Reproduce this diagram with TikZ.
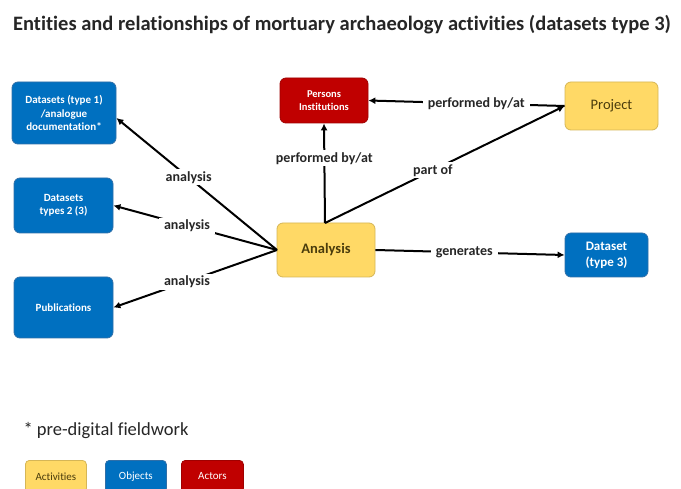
\documentclass[tikz,border=0pt]{standalone}
\usepackage{fontspec}
\setmainfont[Ligatures=NoCommon]{Carlito}
\usetikzlibrary{arrows.meta}
\definecolor{actyellow}{HTML}{FFD966}
\definecolor{actborder}{HTML}{D6B656}
\definecolor{acttext}{HTML}{4A3C0C}
\definecolor{objblue}{HTML}{0070C0}
\definecolor{objborder}{HTML}{2F6FA8}
\definecolor{actred}{HTML}{C00000}
\definecolor{redborder}{HTML}{A00000}
\tikzset{
  box/.style={rounded corners=6pt, line width=0.8pt, align=center, inner sep=2pt},
  activity/.style={box, fill=actyellow, draw=actborder, text=acttext},
  object/.style={box, fill=objblue, draw=objborder, text=white},
  actor/.style={box, fill=actred, draw=redborder, text=white},
  rel/.style={line width=2pt, -{Latex[length=7pt,width=7pt]}},
  lbl/.style={fill=white, inner xsep=5pt, inner ysep=2pt, font=\fontsize{14}{16}\selectfont\bfseries, text=black!85},
}
\begin{document}
\begin{tikzpicture}[x=1pt,y=-1pt]
\useasboundingbox (0,0) rectangle (681,489);
\fill[white] (0,0) rectangle (681,489);

% title
\node[font=\fontsize{20.5}{22}\selectfont\bfseries, text=black!85] (title) at (342,25)
  {Entities and relationships of mortuary archaeology activities (datasets type 3)};

% entities
\node[object, minimum width=104pt, minimum height=62pt, font=\fontsize{11}{13.5}\selectfont\bfseries] (ds1) at (64,113)
  {Datasets (type 1)\\/analogue\\documentation*};
\node[object, minimum width=99pt, minimum height=55pt, font=\fontsize{11}{13.5}\selectfont\bfseries] (ds2) at (63.5,205.5)
  {Datasets\\types 2 (3)};
\node[object, minimum width=99pt, minimum height=61pt, font=\fontsize{11}{13.5}\selectfont\bfseries] (pub) at (63.5,307.5)
  {Publications};
\node[actor, minimum width=88pt, minimum height=45pt, font=\fontsize{10.5}{12.5}\selectfont\bfseries] (pers) at (324,100.5)
  {Persons\\Institutions};
\node[activity, minimum width=93pt, minimum height=48pt, font=\fontsize{14.5}{16}\selectfont] (proj) at (611.5,106)
  {Project};
\node[activity, minimum width=98pt, minimum height=54pt, font=\fontsize{14.5}{16}\selectfont\bfseries] (ana) at (326,250)
  {Analysis};
\node[object, minimum width=83pt, minimum height=44pt, font=\fontsize{13}{16}\selectfont\bfseries] (ds3) at (606.5,255)
  {Dataset\\(type 3)};

% relationships
\coordinate (anaW) at (277,250);
\coordinate (anaN) at (325,223);
\draw[rel] (anaW) -- node[lbl, pos=0.55] {analysis} (ds1.south east |- 0,118) ;
\draw[rel] (anaW) -- node[lbl, pos=0.55] {analysis} (ds2.east);
\draw[rel] (anaW) -- node[lbl, pos=0.55] {analysis} (pub.east);
\draw[rel] (anaN) -- node[lbl, pos=0.65] {performed by/at} (pers.south);
\draw[rel] (anaN) -- node[lbl, pos=0.45] {part of} (proj.west);
\draw[rel] (proj.west) -- node[lbl, pos=0.45] {performed by/at} (pers.east);
\draw[rel] (ana.east) -- node[lbl, pos=0.47] {generates} (ds3.west);

% footnote and legend
\node[anchor=west, font=\fontsize{18.5}{20}\selectfont, text=black!85] (note) at (20,431) {* pre-digital fieldwork};
\node[activity, minimum width=61pt, minimum height=32pt, anchor=north west, font=\fontsize{11}{12}\selectfont, rounded corners=4pt] (legA) at (25,460) {Activities};
\node[object, minimum width=61pt, minimum height=32pt, anchor=north west, font=\fontsize{11}{12}\selectfont, rounded corners=4pt] (legO) at (105,460) {Objects};
\node[actor, minimum width=62pt, minimum height=32pt, anchor=north west, font=\fontsize{11}{12}\selectfont, rounded corners=4pt] (legR) at (181,460) {Actors};
\end{tikzpicture}
\end{document}
